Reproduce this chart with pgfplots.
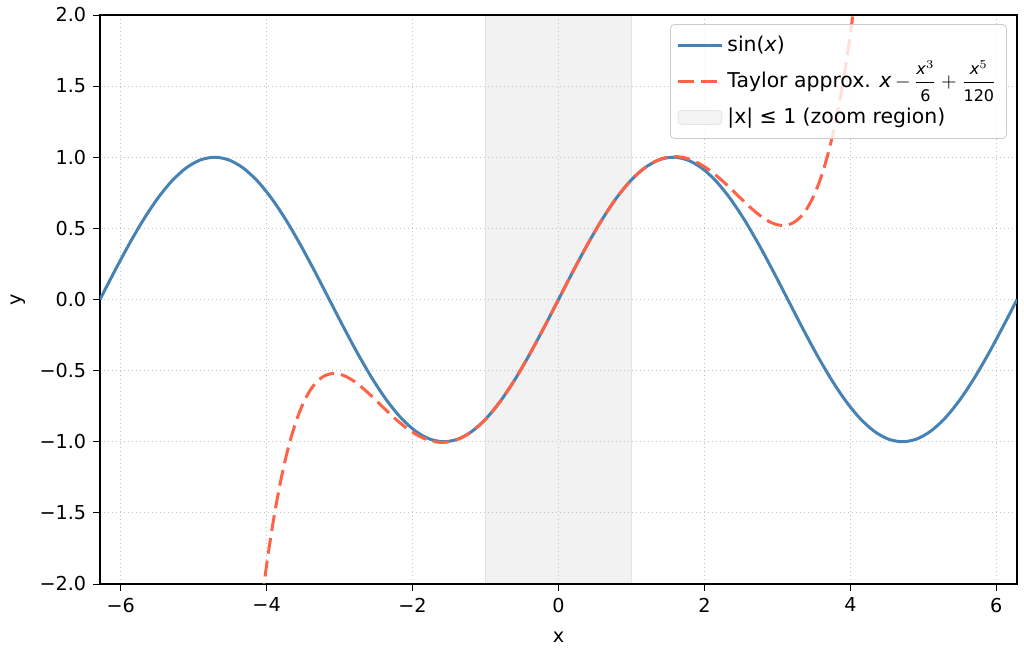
\documentclass[border=0pt]{standalone}
\usepackage{amsmath}
\usepackage{pgfplots}
\pgfplotsset{compat=1.18}
\usepackage{fontspec}
\setmainfont{DejaVu Sans}
\definecolor{sinblue}{HTML}{4682B4}
\definecolor{taylorred}{HTML}{FF6347}
\definecolor{zonefill}{HTML}{F2F2F2}
\definecolor{zoneedge}{HTML}{E3E3E3}
\definecolor{gridgray}{HTML}{C4C4C4}
\pgfplotsset{boxlegend/.style={legend image code/.code={\draw[##1] (0pt,-3.5pt) rectangle (22pt,3.5pt);}}}
\newcommand{\fr}[2]{\genfrac{}{}{0.4pt}{0}{\text{\fontsize{8}{8}\selectfont #1}}{\text{\fontsize{8}{8}\selectfont #2}}}
\begin{document}
\fontsize{9.6}{11.5}\selectfont
\begin{tikzpicture}
\begin{axis}[
  set layers,
  scale only axis,
  width=458.5pt, height=284.5pt,
  xmin=-6.28319, xmax=6.28319, ymin=-2, ymax=2,
  xtick={-6,-4,-2,0,2,4,6},
  xticklabels={−6,−4,−2,0,2,4,6},
  ytick={-2,-1.5,-1,-0.5,0,0.5,1,1.5,2},
  yticklabels={−2.0,−1.5,−1.0,−0.5,0.0,0.5,1.0,1.5,2.0},
  xtick pos=bottom, ytick pos=left,
  tick align=outside,
  major tick length=3.5pt,
  tick style={black, line width=0.4pt},
  axis line style={line width=0.6pt},
  grid=major,
  major grid style={gridgray, line width=0.6pt, dash pattern=on 0.6pt off 1.4pt},
  xlabel={x}, ylabel={y},
  xlabel style={at={(axis description cs:0.5,-0.0931)}, anchor=center},
  ylabel style={at={(axis description cs:-0.0894,0.5)}, anchor=center},
  legend style={at={(rel axis cs:0.989,0.984)}, anchor=north east,
    draw=gray!40, rounded corners=2pt, fill=white, fill opacity=0.8, text opacity=1,
    inner xsep=3pt, inner ysep=1.5pt, row sep=0pt,
    cells={anchor=west}, nodes={minimum height=18pt},
    font=\fontsize{10.2}{12}\selectfont},
  legend cell align=left,
  legend image code/.code={\draw[#1] (0pt,0pt) -- (22pt,0pt);},
]
\addplot[forget plot, on layer=axis background, fill=zonefill, draw=zoneedge, line width=0.5pt]
  coordinates {(-1,-2) (-1,2) (1,2) (1,-2)} -- cycle;

\addplot[sinblue, line width=1.5pt, smooth] coordinates {
(-6.28319,0) (-6.08684,0.19509) (-5.89049,0.38268) (-5.69414,0.55557) (-5.49779,0.70711)
(-5.30144,0.83147) (-5.10509,0.92388) (-4.90874,0.98079) (-4.71239,1) (-4.51604,0.98079)
(-4.31969,0.92388) (-4.12334,0.83147) (-3.92699,0.70711) (-3.73064,0.55557) (-3.53429,0.38268)
(-3.33794,0.19509) (-3.14159,0) (-2.94524,-0.19509) (-2.74889,-0.38268) (-2.55254,-0.55557)
(-2.35619,-0.70711) (-2.15984,-0.83147) (-1.96350,-0.92388) (-1.76715,-0.98079) (-1.57080,-1)
(-1.37445,-0.98079) (-1.17810,-0.92388) (-0.98175,-0.83147) (-0.78540,-0.70711) (-0.58905,-0.55557)
(-0.39270,-0.38268) (-0.19635,-0.19509) (0,0)
(0.19635,0.19509) (0.39270,0.38268) (0.58905,0.55557) (0.78540,0.70711) (0.98175,0.83147)
(1.17810,0.92388) (1.37445,0.98079) (1.57080,1) (1.76715,0.98079) (1.96350,0.92388)
(2.15984,0.83147) (2.35619,0.70711) (2.55254,0.55557) (2.74889,0.38268) (2.94524,0.19509)
(3.14159,0) (3.33794,-0.19509) (3.53429,-0.38268) (3.73064,-0.55557) (3.92699,-0.70711)
(4.12334,-0.83147) (4.31969,-0.92388) (4.51604,-0.98079) (4.71239,-1) (4.90874,-0.98079)
(5.10509,-0.92388) (5.30144,-0.83147) (5.49779,-0.70711) (5.69414,-0.55557) (5.89049,-0.38268)
(6.08684,-0.19509) (6.28319,0)
};
\addlegendentry{sin(\textit{x})}

\addplot[taylorred, line width=1.5pt, dash pattern=on 8pt off 3.5pt, smooth] coordinates {
(-4.1,-2.267850) (-4.0,-1.866667) (-3.9,-1.532183) (-3.8,-1.257597) (-3.7,-1.036497)
(-3.6,-0.862848) (-3.5,-0.730990) (-3.4,-0.635619) (-3.3,-0.571783) (-3.2,-0.534869)
(-3.1,-0.520596) (-3.0,-0.525) (-2.9,-0.544429) (-2.8,-0.575531) (-2.7,-0.615242)
(-2.6,-0.660781) (-2.5,-0.709635) (-2.4,-0.759552) (-2.3,-0.808528) (-2.2,-0.854803)
(-2.1,-0.896842) (-2.0,-0.933333) (-1.9,-0.963175) (-1.8,-0.985464) (-1.7,-0.999488)
(-1.6,-1.004715) (-1.5,-1.000781) (-1.4,-0.987486) (-1.3,-0.964774) (-1.2,-0.932736)
(-1.1,-0.891588) (-1.0,-0.841667) (-0.9,-0.783421) (-0.8,-0.717397) (-0.7,-0.644234)
(-0.6,-0.564648) (-0.5,-0.479427) (-0.4,-0.389419) (-0.3,-0.295520) (-0.2,-0.198669)
(-0.1,-0.099833) (0,0)
(0.1,0.099833) (0.2,0.198669) (0.3,0.295520) (0.4,0.389419) (0.5,0.479427)
(0.6,0.564648) (0.7,0.644234) (0.8,0.717397) (0.9,0.783421) (1.0,0.841667)
(1.1,0.891588) (1.2,0.932736) (1.3,0.964774) (1.4,0.987486) (1.5,1.000781)
(1.6,1.004715) (1.7,0.999488) (1.8,0.985464) (1.9,0.963175) (2.0,0.933333)
(2.1,0.896842) (2.2,0.854803) (2.3,0.808528) (2.4,0.759552) (2.5,0.709635)
(2.6,0.660781) (2.7,0.615242) (2.8,0.575531) (2.9,0.544429) (3.0,0.525)
(3.1,0.520596) (3.2,0.534869) (3.3,0.571783) (3.4,0.635619) (3.5,0.730990)
(3.6,0.862848) (3.7,1.036497) (3.8,1.257597) (3.9,1.532183) (4.0,1.866667)
(4.1,2.267850)
};
\addlegendentry{Taylor approx. \textit{x}\,\smash{$-\,\fr{\textit{x}$^{3}$}{6}+\fr{\textit{x}$^{5}$}{120}$}}

\addlegendimage{boxlegend, fill=zonefill, draw=zoneedge, line width=0.4pt}
\addlegendentry{|x| ≤ 1 (zoom region)}
\end{axis}
\pgfresetboundingbox
\path[use as bounding box] ([xshift=-50pt,yshift=-36pt]current axis.south west) rectangle ([xshift=3.5pt,yshift=7.5pt]current axis.north east);
\end{tikzpicture}
\end{document}
